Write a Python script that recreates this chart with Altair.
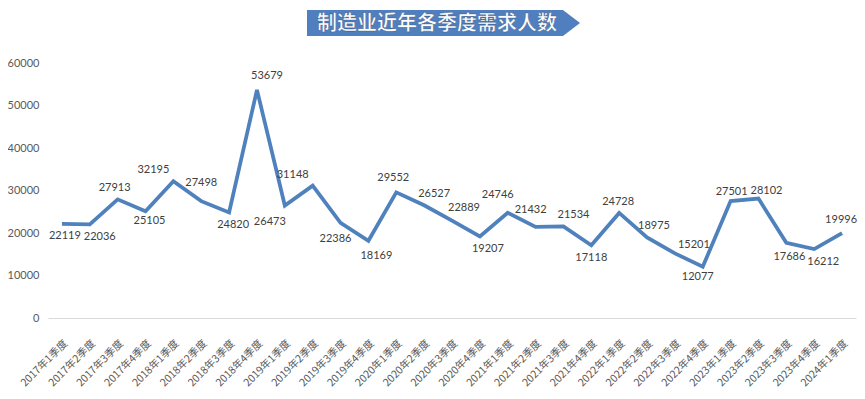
import altair as alt
import pandas as pd

title_text = "制造业近年各季度需求人数"

categories = [
    "2017年1季度", "2017年2季度", "2017年3季度", "2017年4季度",
    "2018年1季度", "2018年2季度", "2018年3季度", "2018年4季度",
    "2019年1季度", "2019年2季度", "2019年3季度", "2019年4季度",
    "2020年1季度", "2020年2季度", "2020年3季度", "2020年4季度",
    "2021年1季度", "2021年2季度", "2021年3季度", "2021年4季度",
    "2022年1季度", "2022年2季度", "2022年3季度", "2022年4季度",
    "2023年1季度", "2023年2季度", "2023年3季度", "2023年4季度",
    "2024年1季度",
]

demand = [
    22119, 22036, 27913, 25105,
    32195, 27498, 24820, 53679,
    26473, 31148, 22386, 18169,
    29552, 26527, 22889, 19207,
    24746, 21432, 21534, 17118,
    24728, 18975, 15201, 12077,
    27501, 28102, 17686, 16212,
    19996,
]

y_ticks = [0, 10000, 20000, 30000, 40000, 50000, 60000]

# data-label nudges (pixels), as the labels were placed in the source chart
label_dx = [3, 10, -3, 4, -20, 0, 4, 10, -15, -20, -5, 8, -3, 10, 12, 8,
            -10, -5, 10, 0, -1, 7, 19, -5, 1, 8, 3, 9, -1]
label_dy = [12, 13, -11, 10, -11, -18, 12, -14, 17, -11, 16, 15, -14, -11, -13, 13,
            -18, -17, -11, 13, -11, -11, -8, 10, -9, -8, 14, 13, -13]

W, H = 808, 255
Y_MAX = 60000
n = len(categories)
step = W / n

df = pd.DataFrame({
    "q": categories, "v": demand, "dx": label_dx, "dy": label_dy,
    "i": list(range(n)),
})

y_scale = alt.Scale(domain=[0, Y_MAX], nice=False, zero=True)
y_axis = alt.Axis(
    title=None, values=y_ticks, grid=False, domain=False, ticks=False,
    labelColor="#595959", labelFontSize=11, labelFont="Lato",
    labelPadding=9, format="d",
)

x_enc = alt.X(
    "q:N",
    sort=categories,
    scale=alt.Scale(type="point", padding=0.5),
    axis=alt.Axis(
        title=None, labelAngle=-45, labelFont="Noto Sans CJK SC", labelFontSize=10.5,
        labelColor="#595959", ticks=False, domainColor="#d9d9d9", domainWidth=1,
        labelPadding=20, labelOverlap=False, grid=False,
    ),
)
y_enc = alt.Y("v:Q", scale=y_scale, axis=y_axis)

base = alt.Chart(df)

line = base.mark_line(color="#4f81bd", strokeWidth=3.75).encode(x=x_enc, y=y_enc)

labels = base.transform_calculate(
    lx=f"datum.i + datum.dx / {step}",
    ly=f"datum.v - datum.dy * {Y_MAX} / {H}",
).mark_text(font="Lato", fontSize=11, color="#404040", baseline="middle").encode(
    x=alt.X("lx:Q", scale=alt.Scale(domain=[-0.5, n - 0.5], nice=False, zero=False), axis=None),
    y=alt.Y("ly:Q", scale=y_scale, axis=y_axis),
    text=alt.Text("v:Q", format="d"),
)

tdf = pd.DataFrame({"t": [title_text]})
banner_path = "M-1,-0.0952L0.875,-0.0952L1,0L0.875,0.0952L-1,0.0952Z"
banner = alt.Chart(tdf).mark_point(
    shape=banner_path, size=74529, filled=True, fill="#4f7fbf", opacity=1, strokeWidth=0
).encode(x=alt.value(395.5), y=alt.value(-40))

title_main = alt.Chart(tdf).mark_text(
    font="Noto Sans CJK SC", fontSize=20, fontWeight="bold", color="white",
    stroke="#2c4d7f", strokeWidth=0.6, strokeOpacity=0.7,
    baseline="middle", align="center",
).encode(x=alt.value(389), y=alt.value(-39.5), text="t:N")

chart = alt.layer(line, labels, banner, title_main).resolve_scale(
    x="independent"
).properties(
    width=W,
    height=H,
    autosize=alt.AutoSizeParams(type="none"),
    padding={"left": 40, "top": 55, "right": 1, "bottom": 73},
    background="white",
).configure_view(stroke=None)

chart.save("out.html", embed_options={"renderer": "svg", "actions": False})
